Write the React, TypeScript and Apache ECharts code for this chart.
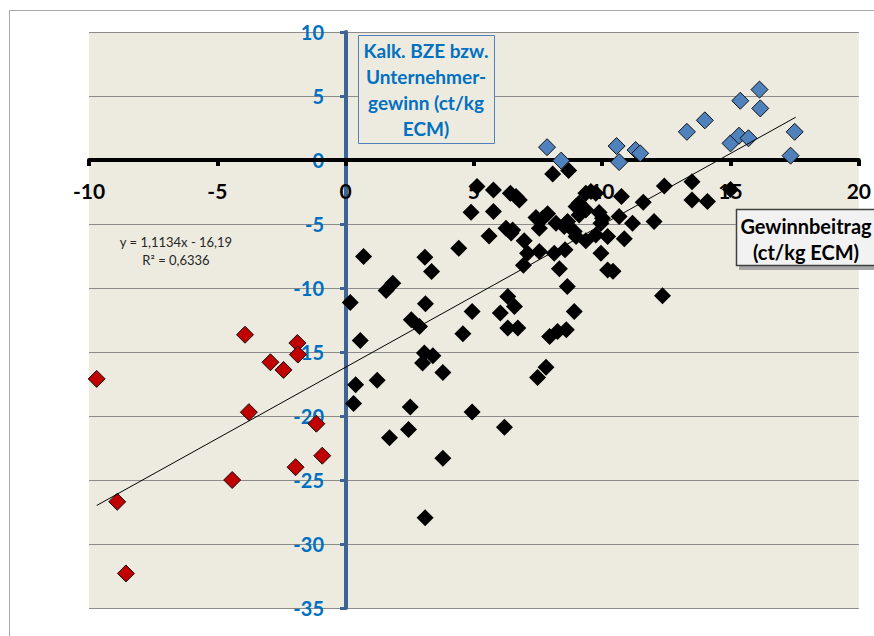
import React, { useEffect, useRef } from "react";
import * as echarts from "echarts";

const xTicks = { min: -10, max: 20, step: 5 };
const yTicks = { min: -35, max: 10, step: 5 };

const blackPoints: [number, number][] = [
  [5.12, -2.08], [5.76, -2.34], [6.42, -2.6], [6.77, -3.12], [4.89, -4.08], [5.76, -4.03],
  [6.25, -5.33], [6.45, -5.7], [5.59, -5.93], [4.41, -6.9], [0.7, -7.54], [3.09, -7.59],
  [3.35, -8.71], [1.84, -9.62], [1.58, -10.2], [0.18, -11.13], [3.11, -11.23], [6.32, -10.66],
  [2.56, -12.48], [2.88, -13.0], [0.57, -14.1], [4.93, -11.83], [4.57, -13.57], [6.03, -11.96],
  [6.32, -13.13], [6.58, -11.44], [6.71, -13.13], [3.07, -15.08], [3.4, -15.3], [3.0, -15.86],
  [3.79, -16.6], [0.39, -17.55], [1.23, -17.2], [0.31, -19.03], [2.52, -19.29], [4.93, -19.69],
  [6.19, -20.88], [2.45, -21.06], [1.71, -21.7], [3.79, -23.3], [3.1, -27.95], [8.07, -1.1],
  [8.69, -0.83], [12.42, -2.03], [13.5, -1.69], [13.5, -3.12], [14.1, -3.25], [15.0, -2.3],
  [10.75, -2.86], [11.6, -3.3], [12.02, -4.8], [11.18, -4.94], [10.66, -4.42], [9.75, -2.6],
  [9.36, -2.6], [9.56, -2.47], [9.1, -3.38], [9.88, -4.1], [10.01, -4.55], [9.95, -4.94],
  [6.64, -2.86], [6.51, -5.46], [6.96, -6.3], [7.42, -4.5], [7.68, -4.55], [7.87, -4.2],
  [8.2, -4.94], [8.52, -5.2], [8.65, -4.81], [7.55, -5.33], [8.91, -5.59], [8.98, -3.64],
  [9.1, -4.29], [9.36, -3.9], [8.98, -5.98], [9.36, -6.3], [9.75, -5.85], [10.21, -5.98],
  [10.86, -6.15], [7.09, -7.28], [7.55, -7.15], [8.13, -7.28], [8.55, -7.02], [6.93, -8.23],
  [8.33, -8.5], [9.95, -7.28], [10.21, -8.6], [10.42, -8.7], [8.64, -9.88], [12.35, -10.6],
  [8.91, -11.83], [7.95, -13.78], [8.26, -13.39], [8.6, -13.26], [7.48, -17.0], [7.81, -16.2],
];

const bluePoints: [number, number][] = [
  [7.85, 1.0], [8.4, -0.05], [10.56, 1.09], [10.66, -0.16], [11.3, 0.78], [11.48, 0.52],
  [13.3, 2.2], [14.0, 3.1], [15.0, 1.3], [15.33, 1.9], [15.7, 1.7], [15.38, 4.63],
  [16.13, 5.5], [16.16, 4.03], [17.5, 2.2], [17.34, 0.34],
];

const redPoints: [number, number][] = [
  [-9.7, -17.1], [-3.92, -13.65], [-1.88, -14.3], [-1.86, -15.2], [-2.93, -15.8], [-2.42, -16.4],
  [-3.77, -19.7], [-1.14, -20.6], [-0.91, -23.1], [-1.95, -24.0], [-4.42, -25.0], [-8.9, -26.7],
  [-8.56, -32.3],
];

const trendEnds: [number, number][] = [[-9.7, -26.99], [17.54, 3.34]];

const equationLines = ["y = 1,1134x - 16,19", "R² = 0,6336"];
const yTitleLines = ["Kalk. BZE bzw.", "Unternehmer-", "gewinn (ct/kg", "ECM)"];
const xTitleLines = ["Gewinnbeitrag", "(ct/kg ECM)"];

const FONT = "Lato, 'Open Sans', sans-serif";

const W = 874, H = 636;
const G = { left: 89, right: 14, top: 32, bottom: 28 };
const gridW = W - G.left - G.right;
const gridH = H - G.top - G.bottom;
// axes cross at the origin: shift them inward from the grid edges
const xAxisOffset = -(gridH * (0 - yTicks.min)) / (yTicks.max - yTicks.min);
const yAxisOffset = -(gridW * (0 - xTicks.min)) / (xTicks.max - xTicks.min);

export default function App() {
  const ref = useRef<HTMLDivElement>(null);
  useEffect(() => {
    if (!ref.current) return;
    const chart = echarts.init(ref.current, undefined, { renderer: "svg" });
    chart.setOption({
      animation: false,
      backgroundColor: "#ffffff",
      grid: {
        ...G, show: true, backgroundColor: "#EDEBE0", borderWidth: 0,
      },
      xAxis: {
        type: "value", min: xTicks.min, max: xTicks.max, interval: xTicks.step, z: 1,
        position: "bottom", offset: xAxisOffset,
        axisLine: { onZero: false, lineStyle: { color: "#000", width: 4 } },
        axisTick: { show: true, length: 6, lineStyle: { color: "#000", width: 4 } },
        axisLabel: { color: "#000", fontWeight: "bold", fontSize: 21, fontFamily: FONT, margin: 20 },
        splitLine: { show: false },
      },
      yAxis: {
        type: "value", min: yTicks.min, max: yTicks.max, interval: yTicks.step, z: 0,
        position: "left", offset: yAxisOffset,
        axisLine: { onZero: false, lineStyle: { color: "#3C6496", width: 4 } },
        axisTick: { show: true, length: 6, lineStyle: { color: "#3C6496", width: 3 } },
        axisLabel: { color: "#0070C0", fontWeight: "bold", fontSize: 20, fontFamily: FONT, margin: 22 },
        splitLine: { show: true, lineStyle: { color: "#8C8C8C", width: 1 } },
      },
      series: [
        {
          type: "scatter", data: blackPoints, symbol: "diamond", symbolSize: 17,
          itemStyle: { color: "#000", opacity: 1 }, z: 2,
        },
        {
          type: "scatter", data: bluePoints, symbol: "diamond", symbolSize: 17,
          itemStyle: { color: "#4F81BD", borderColor: "#111", borderWidth: 1, opacity: 1 }, z: 3,
        },
        {
          type: "scatter", data: redPoints, symbol: "diamond", symbolSize: 17,
          itemStyle: { color: "#C00000", borderColor: "#111", borderWidth: 1, opacity: 1 }, z: 3,
        },
        {
          type: "line", data: trendEnds, symbol: "none", z: 4,
          lineStyle: { color: "#000", width: 1 },
        },
      ],
      graphic: [
        {
          type: "rect", z: 0, silent: true,
          shape: { x: 9.5, y: 10.5, width: 1000, height: 1000 },
          style: { fill: "none", stroke: "#A6A6A6", lineWidth: 1 },
        },
        {
          type: "rect", z: 10,
          shape: { x: 358.5, y: 35.5, width: 136, height: 108 },
          style: { fill: "#EDEBE0", stroke: "#4F81BD", lineWidth: 1 },
        },
        ...yTitleLines.map((t, i) => ({
          type: "text", z: 11,
          x: 426, y: 50 + i * 26,
          style: {
            text: t, fill: "#0070C0", font: `bold 19px ${FONT}`,
            align: "center", verticalAlign: "middle",
          },
        })),
        {
          type: "rect", z: 10,
          shape: { x: 739, y: 212, width: 140, height: 58 },
          style: { fill: "#A6A6A6" },
        },
        {
          type: "rect", z: 10,
          shape: { x: 736.5, y: 209.5, width: 140, height: 56 },
          style: { fill: "#F2F2F2", stroke: "#404040", lineWidth: 1.5 },
        },
        ...xTitleLines.map((t, i) => ({
          type: "text", z: 11,
          x: 806, y: 226 + i * 26,
          style: {
            text: t, fill: "#000", font: `bold 20px ${FONT}`,
            align: "center", verticalAlign: "middle",
          },
        })),
        ...equationLines.map((t, i) => ({
          type: "text", z: 11,
          x: 176, y: 242 + i * 18,
          style: {
            text: t, fill: "#262626", font: `13px ${FONT}`,
            align: "center", verticalAlign: "middle",
          },
        })),
      ],
    });
    return () => chart.dispose();
  }, []);
  return (
    <div
      ref={ref}
      style={{ position: "fixed", left: 0, top: 0, width: W, height: H, background: "#fff" }}
    />
  );
}
